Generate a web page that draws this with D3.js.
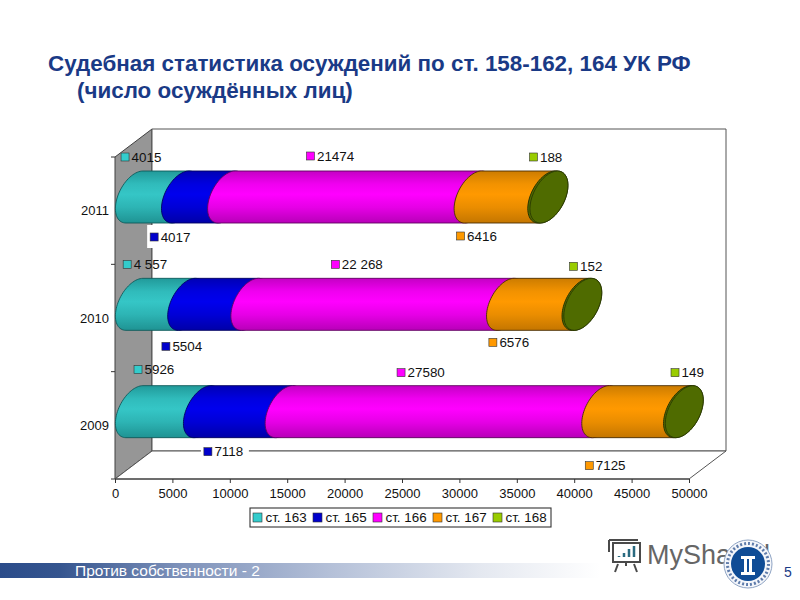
<!DOCTYPE html>
<html><head><meta charset="utf-8">
<script src="https://cdn.jsdelivr.net/npm/d3@7/dist/d3.min.js"></script>
<style>html,body{margin:0;padding:0;background:#fff}svg{display:block}text{font-family:"Liberation Sans",Arial,sans-serif}</style>
</head><body><svg id="c" width="800" height="600"></svg>
<script>
const years = ["2011","2010","2009"];
const seriesNames = ["ст. 163","ст. 165","ст. 166","ст. 167","ст. 168"];
const v2011 = [4015,4017,21474,6416,188];
const v2010 = [4557,5504,22268,6576,152];
const v2009 = [5926,7118,27580,7125,149];
const labels2011 = ["4015","4017","21474","6416","188"];
const labels2010 = ["4 557","5504","22 268","6576","152"];
const labels2009 = ["5926","7118","27580","7125","149"];
const xTicks = [0,5000,10000,15000,20000,25000,30000,35000,40000,45000,50000];
const titleLines = ["Судебная статистика осуждений по ст. 158-162, 164 УК РФ","(число осуждённых лиц)"];
const footerText = "Против собственности - 2";

const rows = [v2011,v2010,v2009], rowLabels=[labels2011,labels2010,labels2009];
// layout
const depth={x:37,y:-28};
const x=d3.scaleLinear().domain([0,50000]).range([115,689]);
const y=d3.scaleBand().domain(years).range([157,479]).paddingInner(0).paddingOuter(0);
const barTop=14, barH=52;
const ell={ax:8.5,ay:26,bx:17,shift:19.4};
const swatch=["#33cccc","#0000cc","#ff00ff","#ff9900","#99cc00"];
const grads=[["#219a9a","#35c6c6","#1f9393"],["#0000b4","#0000ee","#0000a8"],["#c400c4","#ff00ff","#b800b8"],["#cc7c00","#ff9900","#c47600"]];
const edge=["#0f5a5a","#000060","#600060","#4a2c00"];
const capFill="#4f6b00";
// hand-placed label offsets (pixels from segment centre), as in the original chart
const nudgeX=[[-13,-30,-20,-30,5],[-14,-33,-23,-31,11],[-11,-16,-22,-33,11]];
const nudgeY=[[-14,14,-15,13,-14],[-14,16,-14,12,-12],[-16,14,-13,28,-13]];

const svg=d3.select("#c");
const defs=svg.append("defs");
grads.forEach((g,i)=>{const lg=defs.append("linearGradient").attr("id","g"+i).attr("x1",0).attr("x2",0).attr("y1",0).attr("y2",1);
 [[0,g[0]],[.25,d3.interpolateRgb(g[0],g[1])(.75)],[.45,g[1]],[.7,d3.interpolateRgb(g[1],g[2])(.35)],[1,g[2]]].forEach(s=>lg.append("stop").attr("offset",s[0]).attr("stop-color",s[1]));});
const fg=defs.append("linearGradient").attr("id","foot");
[[0,"#2b4c8a"],[.1,"#35558f"],[.3,"#7e92ba"],[.55,"#b4c0d8"],[.8,"#e4e8f0"],[1,"#ffffff"]].forEach(s=>fg.append("stop").attr("offset",s[0]).attr("stop-color",s[1]));

// title
svg.selectAll("text.t").data(titleLines).join("text").attr("class","t")
 .attr("x",(d,i)=>i?77:48).attr("y",(d,i)=>i?98:71).attr("fill","#1a3a86")
 .attr("font-size",22.4).attr("font-weight","bold").text(d=>d);

// 3D walls
const x0=x(0),x1=x(50000),yT=y.range()[0],yB=y.range()[1];
svg.append("path").attr("d",`M${x0},${yT}L${x0+depth.x},${yT+depth.y}V${yB+depth.y}L${x0},${yB}Z`).attr("fill","#969696").attr("stroke","#404040");
svg.append("path").attr("d",`M${x0+depth.x},${yT+depth.y}H${x1+depth.x}V${yB+depth.y}H${x0+depth.x}Z`).attr("fill","#fff").attr("stroke","#555");
svg.append("path").attr("d",`M${x0},${yB}L${x0+depth.x},${yB+depth.y}H${x1+depth.x}L${x1},${yB}Z`).attr("fill","#fff").attr("stroke","#555");

// axes
const ax=svg.append("g").attr("transform",`translate(0,${yB})`).call(d3.axisBottom(x).tickValues(xTicks).tickFormat(d3.format("d")).tickSize(4).tickPadding(6));
ax.select(".domain").attr("stroke","#333").attr("d",`M${x0},0H${x1}`);
ax.selectAll("line").attr("stroke","#333");
ax.selectAll("text").attr("font-size",13).attr("fill","#111").style("font-family",'"Liberation Sans"');
const tickYs=[...years.map(d=>y(d)),yB];
svg.selectAll("line.ct").data(tickYs).join("line").attr("class","ct").attr("x1",x0-4).attr("x2",x0).attr("y1",d=>d).attr("y2",d=>d).attr("stroke","#333");
svg.selectAll("text.yl").data(years).join("text").attr("class","yl").attr("x",x0-6).attr("y",d=>y(d)+y.bandwidth()/2).attr("dy","0.35em").attr("text-anchor","end").attr("font-size",13).attr("fill","#111").text(d=>d);

// cylinders
function pt(cx,cy,t){return [cx+ell.ax*Math.cos(t)+ell.bx*Math.sin(t),cy-ell.ay*Math.cos(t)];}
function arc(px,cy,from,to){const p=[];for(let i=0;i<=40;i++){const t=from+(to-from)*i/40;p.push(pt(px,cy,t));}return p;}
const line=d3.line();
rows.forEach((vals,r)=>{
 const cy=y(years[r])+barTop+barH/2;
 const g=svg.append("g");
 let cum=0;
 const segs=vals.map((v,i)=>{const s={i,v,a:cum,b:cum+v};cum+=v;return s;});
 segs.forEach(s=>{
  const a=x(s.a)+ell.shift,b=x(s.b)+ell.shift;
  const pts=[...arc(a,cy,-Math.PI,0),...arc(b,cy,0,Math.PI)];
  if(s.i<4){
    g.append("path").attr("d",line(pts)+"Z").attr("fill",`url(#g${s.i})`).attr("stroke",edge[s.i]).attr("stroke-width",.9);
  }else{
    g.append("path").attr("d",line(pts)+"Z").attr("fill",capFill).attr("stroke","#1e2a00").attr("stroke-width",.9);
    g.append("path").attr("d",line(arc(b,cy,0,2*Math.PI))+"Z").attr("fill",capFill).attr("stroke","#2a3a00").attr("stroke-width",.9);
  }
 });
 segs.forEach(s=>{
  const mx=x((s.a+s.b)/2)+nudgeX[r][s.i];
  const top=y(years[r])+barTop;
  const my=(s.i%2===1)?top+barH+nudgeY[r][s.i]:top+nudgeY[r][s.i];
  const t=rowLabels[r][s.i];
  const l=svg.append("g").attr("transform",`translate(${mx},${my})`);
  if(s.i===1&&r!==1){l.append("rect").attr("x",-7).attr("y",-12).attr("width",48).attr("height",23).attr("fill","#fff");}
  l.append("rect").attr("x",-4).attr("y",-4).attr("width",8).attr("height",8).attr("fill",swatch[s.i]).attr("stroke","#333").attr("stroke-width",.6);
  l.append("text").attr("x",6.5).attr("dy","0.36em").attr("font-size",13.4).attr("fill","#111").text(t);
 });
});

// legend
const lg=svg.append("g");
lg.append("rect").attr("x",250).attr("y",508).attr("width",301).attr("height",19).attr("fill","#fff").attr("stroke","#333").attr("stroke-width",1.1);
seriesNames.forEach((n,i)=>{
 const lx=253+60*i;
 lg.append("rect").attr("x",lx).attr("y",513).attr("width",9).attr("height",9).attr("fill",swatch[i]).attr("stroke","#333").attr("stroke-width",.6);
 lg.append("text").attr("x",lx+12.5).attr("y",522).attr("font-size",13.4).attr("fill","#111").text(n);
});

// footer
svg.append("rect").attr("x",0).attr("y",563).attr("width",600).attr("height",15).attr("fill","url(#foot)");
svg.append("text").attr("x",75).attr("y",576).attr("font-size",15.5).attr("fill","#fff").text(footerText);
svg.append("text").attr("x",784).attr("y",577).attr("font-size",14).attr("fill","#1a3a86").text("5");

// watermark: presentation icon + text
const wm=svg.append("g").attr("fill","none").attr("stroke","#4a4a4a").attr("stroke-width",2);
wm.append("path").attr("d","M613,543H640V562H613ZM609,540H638M609,540V552M626,562V566M618,564L615,572M634,564L637,572");
wm.append("path").attr("d","M619,557V556M624,557V553M629,557V549M634,557V546").attr("stroke","#2a6a80").attr("stroke-width",2.5);
svg.append("text").attr("x",647).attr("y",564).attr("font-size",27).attr("fill","#666").text("MyShared");
// emblem
const em=svg.append("g");
em.append("circle").attr("cx",748).attr("cy",564).attr("r",24).attr("fill","#f4f6fa").attr("stroke","#8fa4c4").attr("stroke-width",1);
em.append("circle").attr("cx",748).attr("cy",564).attr("r",20.5).attr("fill","none").attr("stroke","#5f7cab").attr("stroke-width",3).attr("stroke-dasharray","2 2");
em.append("circle").attr("cx",748).attr("cy",564).attr("r",17).attr("fill","#0f4c96");
em.append("path").attr("d","M741,556H755V559H752V572H755V575H741V572H744V559H741ZM747,559V572H749V559Z").attr("fill","#fff").attr("fill-rule","evenodd");
</script></body></html>
